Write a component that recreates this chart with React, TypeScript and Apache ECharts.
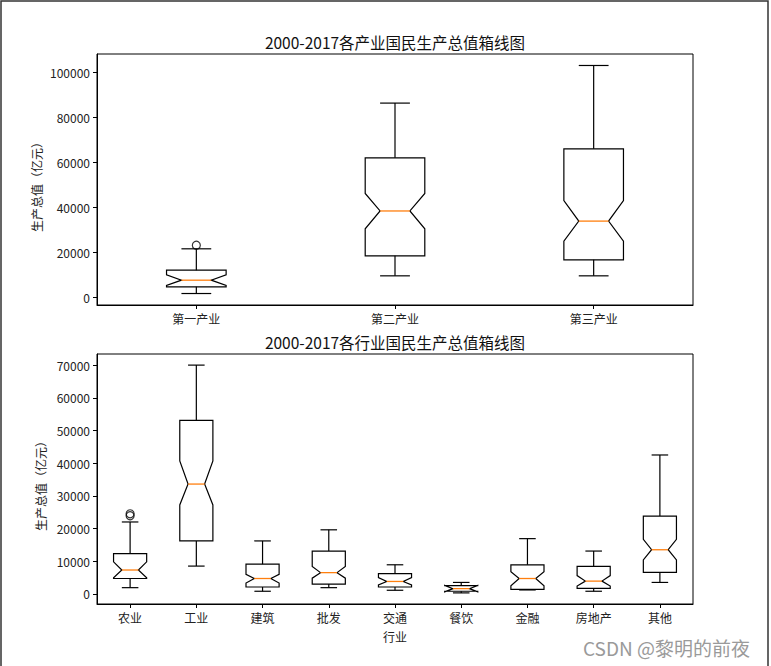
import React, { useEffect, useRef } from 'react';
import * as echarts from 'echarts';

const FONT = '"Noto Sans CJK SC", "DejaVu Sans", sans-serif';

// ---- Top chart: three sectors ----
const sectors = ['第一产业', '第二产业', '第三产业'];
const sectorWhiskerLow = [1650, 9500, 9500];
const sectorQ1 = [4600, 18400, 16600];
const sectorNotchLow = [5200, 30400, 24900];
const sectorMedian = [7570, 38300, 33800];
const sectorNotchHigh = [9900, 46100, 42900];
const sectorQ3 = [12000, 61900, 65900];
const sectorWhiskerHigh = [21500, 86200, 102900];
const sectorOutliers: [number, number][] = [[0, 23100]];
const sectorTicks = [0, 20000, 40000, 60000, 80000, 100000];

// ---- Bottom chart: nine industries ----
const industries = ['农业', '工业', '建筑', '批发', '交通', '餐饮', '金融', '房地产', '其他'];
const indWhiskerLow = [1900, 8500, 800, 1900, 1100, 300, 1200, 800, 3500];
const indQ1 = [4700, 16200, 2100, 3000, 2100, 800, 1400, 1700, 6600];
const indNotchLow = [4900, 27200, 3300, 4800, 2750, 600, 2500, 2400, 10400];
const indMedian = [7300, 33600, 4700, 6500, 3800, 1600, 4700, 3900, 13500];
const indNotchHigh = [9800, 40700, 6000, 8400, 5000, 2600, 6800, 5600, 16700];
const indQ3 = [12300, 53100, 9100, 13100, 6200, 2500, 8900, 8400, 23800];
const indWhiskerHigh = [22000, 70000, 16200, 19600, 8900, 3500, 16900, 13100, 42500];
const indOutliers: [number, number][] = [[0, 23900], [0, 24500]];
const indTicks = [0, 10000, 20000, 30000, 40000, 50000, 60000, 70000];

const titleTop = '2000-2017各产业国民生产总值箱线图';
const titleBottom = '2000-2017各行业国民生产总值箱线图';
const yName = '生产总值（亿元）';
const xNameBottom = '行业';
const watermark = 'CSDN @黎明的前夜';

function boxRows(n: number, lo: number[], q1: number[], nlo: number[], med: number[], nhi: number[], q3: number[], hi: number[]) {
  const rows: number[][] = [];
  for (let i = 0; i < n; i++) rows.push([i, lo[i], q1[i], nlo[i], med[i], nhi[i], q3[i], hi[i]]);
  return rows;
}

function makeRender(widthFrac: number) {
  return (params: any, api: any) => {
    const idx = api.value(0);
    const band = api.size([1, 0])[0];
    const w = band * widthFrac;
    const cx = api.coord([idx, api.value(4)])[0];
    const Y = (d: number) => api.coord([idx, api.value(d)])[1];
    const yLo = Y(1), yQ1 = Y(2), yNlo = Y(3), yMed = Y(4), yNhi = Y(5), yQ3 = Y(6), yHi = Y(7);
    const l = cx - w / 2, r = cx + w / 2, il = cx - w / 4, ir = cx + w / 4;
    const stroke = { stroke: '#000', lineWidth: 1.2, fill: 'none' };
    return {
      type: 'group',
      children: [
        {
          type: 'polygon',
          shape: {
            points: [
              [l, yQ1], [r, yQ1], [r, yNlo], [ir, yMed], [r, yNhi], [r, yQ3],
              [l, yQ3], [l, yNhi], [il, yMed], [l, yNlo],
            ],
          },
          style: stroke,
        },
        { type: 'line', shape: { x1: cx, y1: yQ1, x2: cx, y2: yLo }, style: stroke },
        { type: 'line', shape: { x1: cx, y1: yQ3, x2: cx, y2: yHi }, style: stroke },
        { type: 'line', shape: { x1: il, y1: yLo, x2: ir, y2: yLo }, style: stroke },
        { type: 'line', shape: { x1: il, y1: yHi, x2: ir, y2: yHi }, style: stroke },
        { type: 'line', shape: { x1: il, y1: yMed, x2: ir, y2: yMed }, style: { stroke: '#ff7f0e', lineWidth: 1.3 } },
      ],
    };
  };
}

const axisText = { color: '#222', fontSize: 12, fontFamily: FONT };

function yAxisCfg(gridIndex: number, min: number, max: number, ticks: number[]) {
  return {
    gridIndex,
    type: 'value',
    min,
    max,
    axisLine: { show: true, onZero: false, lineStyle: { color: '#000', width: 1 } },
    axisTick: { show: true, length: 4, customValues: ticks, lineStyle: { color: '#000', width: 1 } },
    axisLabel: { ...axisText, margin: 7, customValues: ticks, formatter: (v: number) => String(v) },
    splitLine: { show: false },
  };
}

function xAxisCfg(gridIndex: number, cats: string[]) {
  return {
    gridIndex,
    type: 'category',
    data: cats,
    boundaryGap: true,
    axisLine: { show: true, onZero: false, lineStyle: { color: '#000', width: 1 } },
    axisTick: { show: true, alignWithLabel: true, length: 4, lineStyle: { color: '#000', width: 1 } },
    axisLabel: { ...axisText, margin: 7, interval: 0 },
    splitLine: { show: false },
  };
}

export default function App() {
  const ref = useRef<HTMLDivElement>(null);
  useEffect(() => {
    if (!ref.current) return;
    const chart = echarts.init(ref.current, undefined, { renderer: 'svg' });
    chart.setOption({
      animation: false,
      backgroundColor: '#fff',
      grid: [
        { left: 97, top: 54, width: 596, height: 251, show: true, borderColor: '#000', borderWidth: 1, backgroundColor: 'transparent' },
        { left: 97, top: 354, width: 596, height: 250, show: true, borderColor: '#000', borderWidth: 1, backgroundColor: 'transparent' },
      ],
      xAxis: [xAxisCfg(0, sectors), xAxisCfg(1, industries)],
      yAxis: [yAxisCfg(0, -3450, 108000, sectorTicks), yAxisCfg(1, -3100, 73400, indTicks)],
      series: [
        {
          type: 'custom',
          xAxisIndex: 0,
          yAxisIndex: 0,
          renderItem: makeRender(0.3),
          encode: { x: 0, y: [1, 2, 3, 4, 5, 6, 7] },
          data: boxRows(sectors.length, sectorWhiskerLow, sectorQ1, sectorNotchLow, sectorMedian, sectorNotchHigh, sectorQ3, sectorWhiskerHigh),
        },
        {
          type: 'custom',
          xAxisIndex: 1,
          yAxisIndex: 1,
          renderItem: makeRender(0.5),
          encode: { x: 0, y: [1, 2, 3, 4, 5, 6, 7] },
          data: boxRows(industries.length, indWhiskerLow, indQ1, indNotchLow, indMedian, indNotchHigh, indQ3, indWhiskerHigh),
        },
        {
          type: 'scatter',
          xAxisIndex: 0,
          yAxisIndex: 0,
          symbol: 'circle',
          symbolSize: 8,
          itemStyle: { color: 'rgba(0,0,0,0)', borderColor: '#000', borderWidth: 1.2 },
          data: sectorOutliers,
        },
        {
          type: 'scatter',
          xAxisIndex: 1,
          yAxisIndex: 1,
          symbol: 'circle',
          symbolSize: 8,
          itemStyle: { color: 'rgba(0,0,0,0)', borderColor: '#000', borderWidth: 1.2 },
          data: indOutliers,
        },
      ],
      graphic: [
        { type: 'rect', shape: { x: 1, y: 1, width: 767, height: 720 }, style: { fill: 'none', stroke: '#333', lineWidth: 1.5 }, silent: true },
        { type: 'text', x: 395, y: 42, style: { text: titleTop, fontSize: 15.5, fontFamily: FONT, fill: '#111', align: 'center', verticalAlign: 'middle' } },
        { type: 'text', x: 395, y: 342, style: { text: titleBottom, fontSize: 15.5, fontFamily: FONT, fill: '#111', align: 'center', verticalAlign: 'middle' } },
        { type: 'text', x: 36, y: 184, rotation: Math.PI / 2, style: { text: yName, fontSize: 12, fontFamily: FONT, fill: '#222', align: 'center', verticalAlign: 'middle' } },
        { type: 'text', x: 40, y: 483, rotation: Math.PI / 2, style: { text: yName, fontSize: 12, fontFamily: FONT, fill: '#222', align: 'center', verticalAlign: 'middle' } },
        { type: 'text', x: 395, y: 636, style: { text: xNameBottom, fontSize: 12, fontFamily: FONT, fill: '#222', align: 'center', verticalAlign: 'middle' } },
        { type: 'text', x: 583, y: 647, style: { text: watermark, fontSize: 19, fontFamily: FONT, fill: '#9a9a9a', align: 'left', verticalAlign: 'middle' } },
      ],
    });
    return () => chart.dispose();
  }, []);
  return <div ref={ref} style={{ position: 'fixed', left: 0, top: 0, width: 771, height: 666 }} />;
}
